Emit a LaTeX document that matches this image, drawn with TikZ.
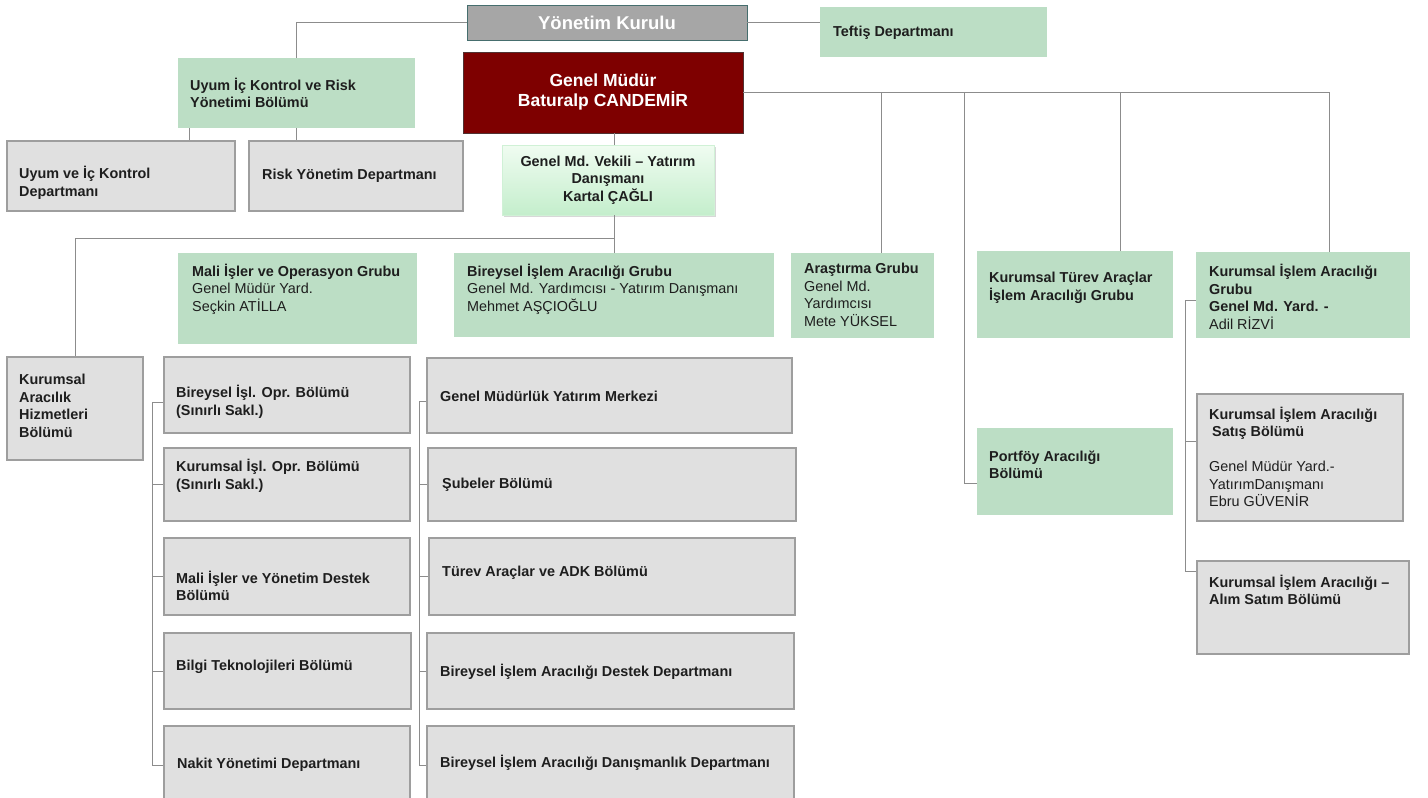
\documentclass[tikz,border=0pt]{standalone}
\usepackage{fontspec}
\setmainfont{Liberation Sans}
\usetikzlibrary{shadows}
\definecolor{grn}{RGB}{188,222,197}
\definecolor{gfill}{RGB}{224,224,224}
\definecolor{gbord}{RGB}{158,158,158}
\definecolor{dred}{RGB}{126,0,0}
\definecolor{gmbord}{RGB}{80,50,50}
\definecolor{ykfill}{RGB}{166,166,166}
\definecolor{ykbord}{RGB}{70,110,110}
\definecolor{lnc}{RGB}{140,140,140}
\definecolor{txtc}{RGB}{30,30,30}
\definecolor{vtop}{RGB}{240,252,241}
\definecolor{vbot}{RGB}{196,238,204}
\newcommand\mkbox[6]{\node[#2, inner sep=0pt, minimum width={(#5-#3)*1pt}, minimum height={(#6-#4)*1pt}] (#1) at ({(#3+#5)/2},{(#4+#6)/2}) {};}
\begin{document}
\begin{tikzpicture}[x=1pt,y=-1pt,
  greenbox/.style={fill=grn, draw=none},
  graybox/.style={fill=gfill, draw=gbord, line width=2.4pt},
  gmbox/.style={fill=dred, draw=gmbord, line width=0.8pt},
  ykbox/.style={fill=ykfill, draw=ykbord, line width=0.8pt},
  vekbox/.style={top color=vtop, bottom color=vbot, draw=vbot!80!white, line width=0.4pt, drop shadow={shadow xshift=2pt, shadow yshift=-2pt, opacity=0.3}},
  conn/.style={draw=lnc, line width=1pt},
  tr/.style={align=left, inner sep=0pt, text=txtc, font=\fontsize{14.4}{17.5}\selectfont, anchor=west},
  tb/.style={tr, font=\fontsize{14.4}{17.5}\selectfont\bfseries},
  tw/.style={align=center, inner sep=0pt, text=white, anchor=center}
]
\useasboundingbox (0,0) rectangle (1428,798);
\fill[white] (0,0) rectangle (1428,798);

% boxes
\mkbox{yk}{ykbox}{467}{5}{747}{40}
\mkbox{tef}{greenbox}{820}{7}{1047}{57}
\mkbox{uyg}{greenbox}{178}{58}{415}{128}
\mkbox{gm}{gmbox}{463}{52}{743}{133}
\mkbox{uik}{graybox}{7}{141}{235}{211}
\mkbox{risk}{graybox}{249}{141}{463}{211}
\mkbox{vek}{vekbox}{502}{145}{714}{215}
\mkbox{mal}{greenbox}{178}{253}{417}{344}
\mkbox{big}{greenbox}{454}{253}{774}{337}
\mkbox{ara}{greenbox}{791}{253}{934}{338}
\mkbox{ktv}{greenbox}{977}{251}{1173}{338}
\mkbox{kig}{greenbox}{1196}{252}{1410}{338}
\mkbox{kah}{graybox}{7}{357}{143}{460}
\mkbox{l1}{graybox}{164}{357}{410}{433}
\mkbox{l2}{graybox}{164}{448}{410}{521}
\mkbox{l3}{graybox}{164}{538}{410}{615}
\mkbox{l4}{graybox}{164}{633}{411}{709}
\mkbox{l5}{graybox}{164}{726}{410}{805}
\mkbox{m1}{graybox}{427}{358}{792}{433}
\mkbox{m2}{graybox}{428}{448}{796}{521}
\mkbox{m3}{graybox}{429}{538}{795}{615}
\mkbox{m4}{graybox}{427}{633}{794}{709}
\mkbox{m5}{graybox}{427}{726}{794}{805}
\mkbox{pf}{greenbox}{977}{428}{1173}{515}
\mkbox{sat}{graybox}{1197}{394}{1403}{521}
\mkbox{alm}{graybox}{1197}{561}{1409}{654}

% texts
\node[tw, font=\fontsize{18.5}{21}\selectfont\bfseries] (t-yk) at (yk) {Yönetim Kurulu};
\node[tb] (t-tef) at (833,33) {Teftiş Departmanı};
\node[tb] (t-uyg) at (190,93) {Uyum İç Kontrol ve Risk\\Yönetimi Bölümü};
\node[tw, font=\fontsize{17.5}{20}\selectfont\bfseries] (t-gm) at (603,92) {Genel Müdür\\Baturalp CANDEMİR};
\node[tb] (t-uik) at (19,183) {Uyum ve İç Kontrol\\Departmanı};
\node[tb] (t-risk) at (262,176) {Risk Yönetim Departmanı};
\node[tb, align=center, anchor=center] (t-vek) at (608,180) {Genel Md. Vekili – Yatırım\\Danışmanı\\Kartal ÇAĞLI};
\node[tr] (t-mal) at (192,289) {\textbf{Mali İşler ve Operasyon Grubu}\\Genel Müdür Yard.\\Seçkin ATİLLA};
\node[tr] (t-big) at (467,289) {\textbf{Bireysel İşlem Aracılığı Grubu}\\Genel Md. Yardımcısı - Yatırım Danışmanı\\Mehmet AŞÇIOĞLU};
\node[tr] (t-ara) at (804,295) {\textbf{Araştırma Grubu}\\Genel Md.\\Yardımcısı\\Mete YÜKSEL};
\node[tb] (t-ktv) at (989,288) {Kurumsal Türev Araçlar\\İşlem Aracılığı Grubu};
\node[tr] (t-kig) at (1209,297) {\textbf{Kurumsal İşlem Aracılığı}\\\textbf{Grubu}\\\textbf{Genel Md. Yard. -}\\Adil RİZVİ};
\node[tb] (t-kah) at (19,406) {Kurumsal\\Aracılık\\Hizmetleri\\Bölümü};
\node[tb] (t-l1) at (176,402) {Bireysel İşl. Opr. Bölümü\\(Sınırlı Sakl.)};
\node[tb] (t-l2) at (176,476) {Kurumsal İşl. Opr. Bölümü\\(Sınırlı Sakl.)};
\node[tb] (t-l3) at (176,586) {Mali İşler ve Yönetim Destek\\Bölümü};
\node[tb] (t-l4) at (176,667) {Bilgi Teknolojileri Bölümü};
\node[tb] (t-l5) at (177,765) {Nakit Yönetimi Departmanı};
\node[tb] (t-m1) at (440,396) {Genel Müdürlük Yatırım Merkezi};
\node[tb] (t-m2) at (442,485) {Şubeler Bölümü};
\node[tb] (t-m3) at (442,573) {Türev Araçlar ve ADK Bölümü};
\node[tb] (t-m4) at (440,672) {Bireysel İşlem Aracılığı Destek Departmanı};
\node[tb] (t-m5) at (440,763) {Bireysel İşlem Aracılığı Danışmanlık Departmanı};
\node[tb] (t-pf) at (989,465) {Portföy Aracılığı\\Bölümü};
\node[tr] (t-sat) at (1209,457) {\textbf{Kurumsal İşlem Aracılığı}\\\textbf{\hspace{3pt}Satış Bölümü}\\[17.5pt]Genel Müdür Yard.-\\YatırımDanışmanı\\Ebru GÜVENİR};
\node[tb] (t-alm) at (1209,590) {Kurumsal İşlem Aracılığı –\\Alım Satım Bölümü};

% connectors
\draw[conn] (yk.west) -| (uyg.north);
\draw[conn] (yk.east) -- (yk.east -| tef.west);
\draw[conn] ([xshift=12pt]uyg.south west) -- ([xshift=12pt]uyg.south west |- uik.north);
\draw[conn] (uyg.south) -- (uyg.south |- risk.north);
\draw[conn] ([xshift=6pt]vek.north |- gm.south) -- ([xshift=6pt]vek.north);
\draw[conn] (big.north |- vek.south) -- (big.north);
\coordinate (jv) at (614,238);
\draw[conn] (kah.north) |- (jv);
\draw[conn] (gm.east) -| ([xshift=26pt]kig.north);
\draw[conn] ([xshift=19pt]ara.north |- gm.east) -- ([xshift=19pt]ara.north);
\draw[conn] ([xshift=45pt]ktv.north |- gm.east) -- ([xshift=45pt]ktv.north);
\draw[conn] ([yshift=-12pt]pf.west) -- ([xshift=-12pt,yshift=-12pt]pf.west) -- ([xshift=-12pt]pf.west |- gm.east);

\coordinate (lt) at (152,402);
\coordinate (lb) at (152,766);
\draw[conn] (lt) -- (lb);
\draw[conn] (lt) -- (lt -| l1.west);
\foreach \n in {l2,l3,l4,l5} \draw[conn] (\n.west) -- (\n.west -| lt);

\coordinate (mt) at (419,401);
\coordinate (mb) at (419,766);
\draw[conn] (mt) -- (mb);
\draw[conn] (mt) -- (mt -| m1.west);
\foreach \n in {m2,m3,m4,m5} \draw[conn] (\n.west) -- (\n.west -| mt);

\coordinate (rt) at (1185,300);
\coordinate (rb) at (1185,571);
\draw[conn] (rt) -- (rb);
\draw[conn] (rt) -- (rt -| kig.west);
\draw[conn] ([yshift=16pt]sat.west) -- ([yshift=16pt]sat.west -| rt);
\draw[conn] (rb) -- (rb -| alm.west);
\end{tikzpicture}
\end{document}
